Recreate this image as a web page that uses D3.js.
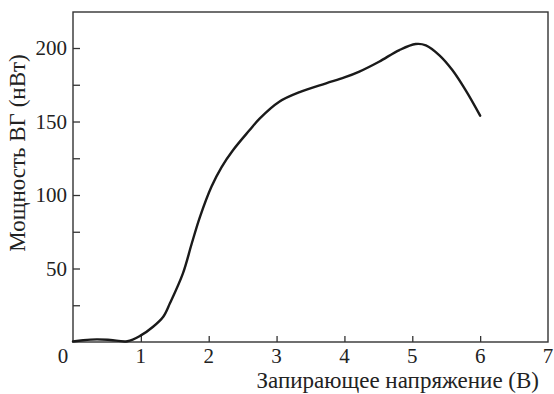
<!DOCTYPE html>
<html>
<head>
<meta charset="UTF-8">
<script src="https://d3js.org/d3.v7.min.js"></script>
<style>
    body { margin: 0; background: #fff; }
    svg text { font-family: "Liberation Serif", "Times New Roman", Tinos, serif; }
</style>
</head>
<body>
<script>
    // напряжение (В) и мощность (нВт)
    var voltage = [0, 0.15, 0.35, 0.55, 0.8, 1.0, 1.18, 1.33, 1.43, 1.62, 1.75, 1.87, 2.04, 2.19, 2.36, 2.6, 2.75, 3.04, 3.34, 3.73, 4.0, 4.22, 4.51, 4.81, 5.05, 5.2, 5.4, 5.59, 5.79, 6.0];
    var power   = [0.3, 1.2, 1.8, 1.4, 0.5, 4.5, 10.4, 17.2, 26.5, 46.7, 67, 85, 105.6, 119, 130.6, 144, 152, 163.5, 170, 176, 180, 184, 190.7, 198.6, 202.7, 201.8, 195, 185, 171, 154];

    var xTicks = [0, 1, 2, 3, 4, 5, 6, 7];
    var yTicks = [25, 50, 75, 100, 125, 150, 175, 200];
    var yLabels = [50, 100, 150, 200];

    var xTitle = "Запирающее напряжение (В)";
    var yTitle = "Мощность ВГ (нВт)";

    var w = 554, h = 394;
    var margin = {left: 73, right: 6, top: 12, bottom: 52};

    var svg = d3.select("body")
        .append("svg")
        .attr("width", w)
        .attr("height", h);

    var x = d3.scaleLinear().domain([0, 7]).range([margin.left, w - margin.right]);
    var y = d3.scaleLinear().domain([0, 224.5]).range([h - margin.bottom, margin.top]);

    function label(sel, size) {
        sel.style("font-family", "Liberation Serif")
            .style("font-size", size + "px")
            .attr("fill", "#222");
    }

    // рамка
    svg.append("rect")
        .attr("x", x(0))
        .attr("y", y.range()[1])
        .attr("width", x(7) - x(0))
        .attr("height", y.range()[0] - y.range()[1])
        .attr("fill", "none")
        .attr("stroke", "#333")
        .attr("stroke-width", 1.4);

    // ось X (засечки внутрь)
    var xAxis = svg.append("g")
        .attr("transform", "translate(0," + y(0) + ")")
        .call(d3.axisTop(x).tickValues(xTicks.slice(1, 7)).tickSize(6).tickFormat(""));
    xAxis.select(".domain").remove();
    xAxis.selectAll("line").attr("stroke", "#333").attr("stroke-width", 1.3);

    svg.append("g").selectAll("text")
        .data(xTicks)
        .enter()
        .append("text")
        .attr("x", function (d) { return d === 0 ? x(d) - 10 : x(d); })
        .attr("y", y(0) + 21)
        .attr("text-anchor", "middle")
        .call(label, 21)
        .text(function (d) { return d; });

    // ось Y
    var yAxis = svg.append("g")
        .attr("transform", "translate(" + x(0) + ",0)")
        .call(d3.axisRight(y).tickValues(yTicks).tickSize(7).tickFormat(""));
    yAxis.select(".domain").remove();
    yAxis.selectAll("line").attr("stroke", "#333").attr("stroke-width", 1.3);

    svg.append("g").selectAll("text")
        .data(yLabels)
        .enter()
        .append("text")
        .attr("x", x(0) - 6)
        .attr("y", function (d) { return y(d) + 7; })
        .attr("text-anchor", "end")
        .call(label, 21)
        .text(function (d) { return d; });

    // подписи осей
    svg.append("text")
        .attr("x", 539)
        .attr("y", 388)
        .attr("text-anchor", "end")
        .call(label, 23)
        .text(xTitle);

    svg.append("text")
        .attr("transform", "translate(25,153) rotate(-90)")
        .attr("text-anchor", "middle")
        .call(label, 23)
        .text(yTitle);

    // кривая
    var line = d3.line()
        .x(function (d, i) { return x(voltage[i]); })
        .y(function (d) { return y(d); })
        .curve(d3.curveCatmullRom.alpha(0.5));

    svg.append("path")
        .datum(power)
        .attr("d", line)
        .attr("fill", "none")
        .attr("stroke", "#1a1a1a")
        .attr("stroke-width", 2.4)
        .attr("stroke-linejoin", "round")
        .attr("stroke-linecap", "round");
</script>
</body>
</html>
